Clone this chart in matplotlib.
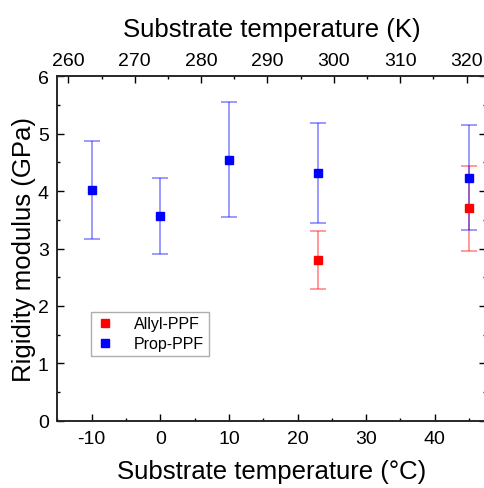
import matplotlib
matplotlib.use("Agg")
import matplotlib.pyplot as plt
from matplotlib.ticker import MultipleLocator

plt.rcParams['font.family'] = ['Liberation Sans', 'DejaVu Sans']
plt.rcParams['axes.unicode_minus'] = False

# data (substrate temperature in °C, modulus in GPa)
prop_t = [-10, 0, 10, 23, 45]
prop_e = [4.02, 3.57, 4.55, 4.31, 4.23]
prop_err_lo = [0.86, 0.67, 1.00, 0.87, 0.91]
prop_err_hi = [0.86, 0.66, 1.00, 0.87, 0.92]

allyl_t = [23, 45]
allyl_e = [2.80, 3.70]
allyl_err_lo = [0.51, 0.74]
allyl_err_hi = [0.50, 0.74]

fig = plt.figure(figsize=(4.85, 4.89), dpi=100)
ax = fig.add_axes([0.1175, 0.1376, 0.885, 0.7043])

# error bars first, markers on top
ax.errorbar(allyl_t, allyl_e, yerr=[allyl_err_lo, allyl_err_hi], fmt='none',
            ecolor=(1, 0, 0, 0.5), elinewidth=1.1, capsize=5.5, capthick=1.1)
ax.errorbar(prop_t, prop_e, yerr=[prop_err_lo, prop_err_hi], fmt='none',
            ecolor=(0, 0, 1, 0.5), elinewidth=1.1, capsize=5.5, capthick=1.1)
ax.plot(allyl_t, allyl_e, 's', color='red', markersize=5.5, label='Allyl-PPF')
ax.plot(prop_t, prop_e, 's', color='blue', markersize=5.5, label='Prop-PPF')

ax.set_xlim(-15.05, 47.5)
ax.set_ylim(0, 6)
ax.xaxis.set_major_locator(MultipleLocator(10))
ax.xaxis.set_minor_locator(MultipleLocator(5))
ax.yaxis.set_major_locator(MultipleLocator(1))
ax.yaxis.set_minor_locator(MultipleLocator(0.5))
ax.tick_params(which='both', direction='in', right=True, labelsize=14, width=1)
ax.tick_params(which='major', length=5)
ax.tick_params(which='minor', length=2.5)
ax.tick_params(axis='x', pad=7)
ax.tick_params(axis='y', pad=6)
ax.set_xlabel('Substrate temperature (°C)', fontsize=18.5, labelpad=8)
ax.set_ylabel('Rigidity modulus (GPa)', fontsize=18.5, labelpad=1)

# top axis in kelvin
ax2 = ax.twiny()
ax2.set_xlim(258.27, 322.97)
ax2.xaxis.set_major_locator(MultipleLocator(10))
ax2.xaxis.set_minor_locator(MultipleLocator(5))
ax2.tick_params(which='both', direction='in', labelsize=14, width=1, pad=5)
ax2.tick_params(which='major', length=5)
ax2.tick_params(which='minor', length=2.5)
ax2.set_xlabel('Substrate temperature (K)', fontsize=18.5, labelpad=12)

for a in (ax, ax2):
    for s in a.spines.values():
        s.set_linewidth(1.1)
        s.set_color('#222222')

leg = ax.legend(loc='lower left', bbox_to_anchor=(0.079, 0.188), fontsize=11.5,
                frameon=True, fancybox=False, edgecolor='#999999',
                handlelength=1.2, handletextpad=1.2, labelspacing=0.3,
                borderpad=0.3, borderaxespad=0)
leg.get_frame().set_linewidth(1.0)

fig.savefig('out.png', dpi=100)
